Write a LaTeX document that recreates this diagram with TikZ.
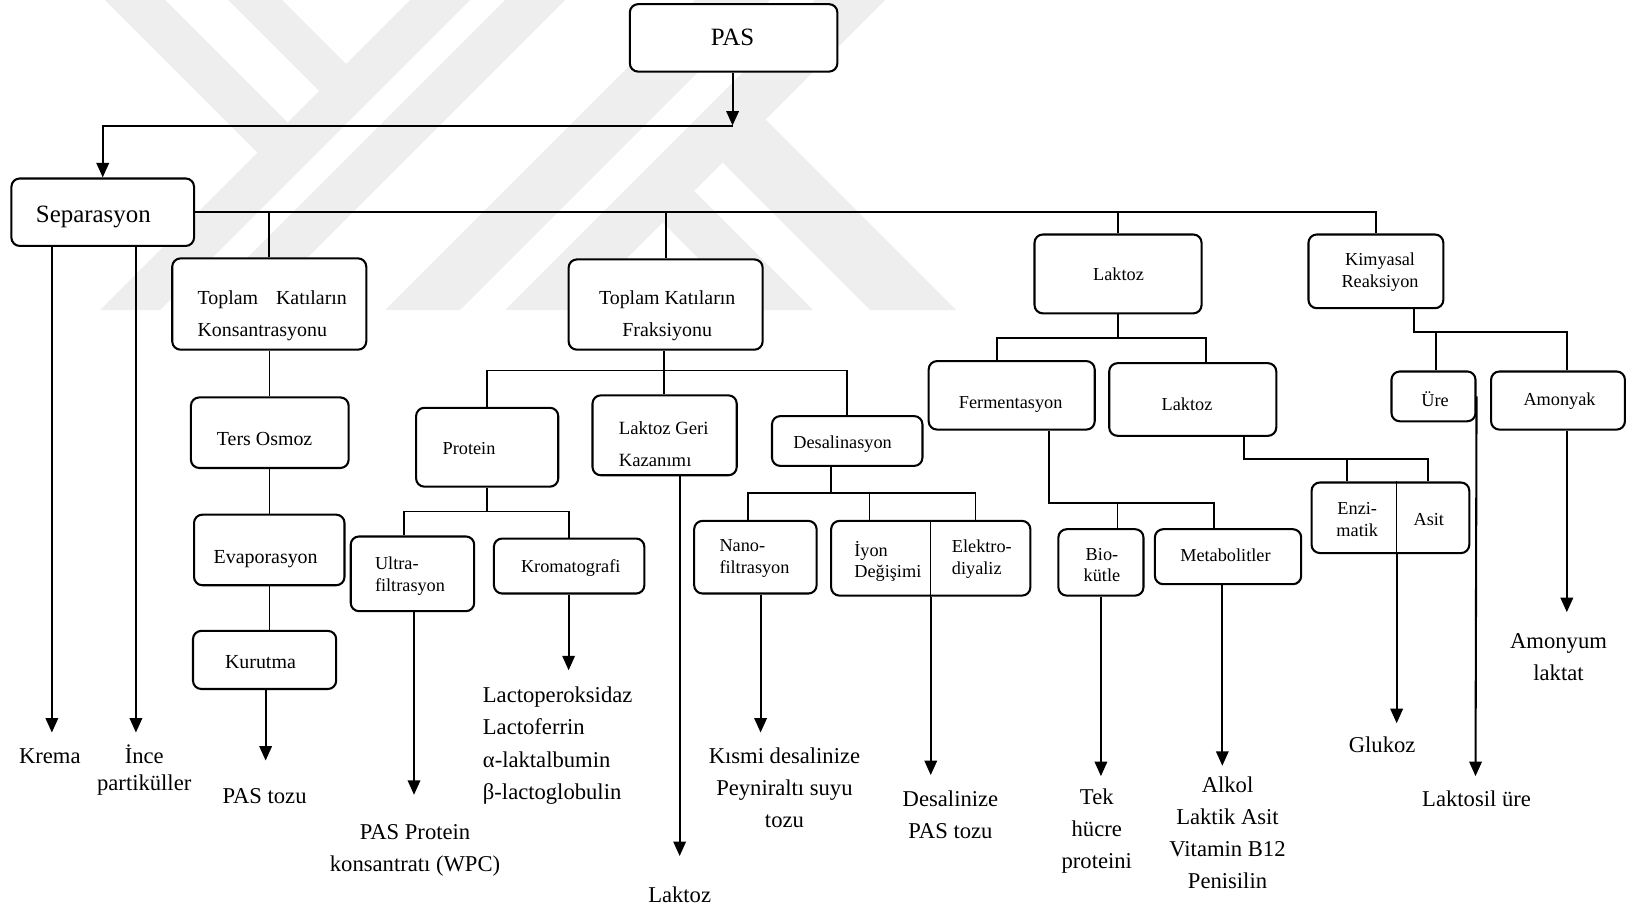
\documentclass[tikz,border=0pt]{standalone}
\usepackage{fontspec}
\setmainfont{Liberation Serif}
\usetikzlibrary{arrows.meta}
\definecolor{wmgray}{RGB}{238,238,238}

% rounded process box given by its left, top, right and bottom edges
\newcommand{\flowbox}[5]{%
  \node[box, minimum width={(#4-(#2))*0.5pt}, minimum height={(#5-(#3))*0.5pt}]
    (#1) at ({(#2+#4)/2},{(#3+#5)/2}) {};}

\begin{document}
\begin{tikzpicture}[x=0.5pt,y=-0.5pt,
  box/.style={draw, rounded corners=4pt, line width=1pt, fill=white, inner sep=0pt},
  ln/.style={line width=0.85pt},
  fine/.style={line width=0.6pt},
  arr/.style={line width=1pt, -{Triangle[length=7pt,width=6pt]}},
  lbl/.style={inner sep=0pt, align=center, yshift=-1pt},
  big/.style={lbl, font=\fontsize{12}{14}\selectfont},
  bs/.style={lbl, font=\fontsize{8.8}{10.5}\selectfont},
  bm/.style={lbl, font=\fontsize{9.6}{15.5}\selectfont},
  res/.style={lbl, font=\fontsize{10.9}{15.5}\selectfont},
  wm/.style={fill=wmgray}]

\useasboundingbox (0,0) rectangle (1568,874);

% faint background emblem
\begin{scope}[scale=0.96376]
  \fill[wm] (410,0) -- (470,0) -- (160,310) -- (100,310) -- cycle;
  \fill[wm] (505,0) -- (565,0) -- (255,310) -- (195,310) -- cycle;
  \fill[wm] (695,0) -- (770,0) -- (460,310) -- (385,310) -- cycle;
  \fill[wm] (815,0) -- (885,0) -- (575,310) -- (505,310) -- cycle;
  \fill[wm] (228,0) -- (282,0) -- (346,64) -- (319,91) -- cycle;
  \fill[wm] (105,0) -- (165,0) -- (287.5,122.5) -- (257.5,152.5) -- cycle;
  \fill[wm] (765.5,119.5) -- (956,310) -- (870,310) -- (722.5,162.5) -- cycle;
  \fill[wm] (694,191) -- (813,310) -- (750,310) -- (662.5,222.5) -- cycle;
\end{scope}

% boxes
\flowbox{pas}{607}{4}{807}{69}
\flowbox{sep}{11}{172}{187}{237}
\flowbox{kons}{166}{249}{353}{337}
\flowbox{frak}{548}{250}{735}{337}
\flowbox{ters}{184}{383}{336}{451}
\flowbox{evap}{187}{496}{332}{564}
\flowbox{kur}{186}{608}{324}{664}
\flowbox{prot}{401}{393}{538}{469}
\flowbox{lgk}{571}{381}{710}{458}
\flowbox{desal}{744}{401}{889}{449}
\flowbox{ultra}{338}{517}{457}{589}
\flowbox{krom}{476}{519}{621}{572}
\flowbox{nano}{669}{502}{787}{572}
\flowbox{iyon}{801}{502}{993}{574}
\flowbox{lak}{997}{226}{1158}{302}
\flowbox{ferm}{895}{348}{1055}{414}
\flowbox{lakb}{1069}{350}{1230}{420}
\flowbox{bio}{1020}{510}{1102}{574}
\flowbox{metab}{1113}{510}{1254}{563}
\flowbox{enz}{1264}{465}{1416}{533}
\flowbox{kim}{1261}{226}{1391}{297}
\flowbox{ure}{1341}{358}{1422}{406}
\flowbox{amon}{1437}{358}{1566}{414}

% junctions and arrow ends
\coordinate (j0) at (706,121);
\coordinate (kremaTip) at (50,706);
\coordinate (inceTip) at (131,706);
\coordinate (ptTip) at (256,733);
\coordinate (fb) at (640,357);
\coordinate (pb) at (470,493);
\coordinate (ppcTip) at (399,766);
\coordinate (lacTip) at (548,646);
\coordinate (lakTip) at (655,825);
\coordinate (db) at (801,475);
\coordinate (dbL) at (721,475);
\coordinate (dbM) at (838,475);
\coordinate (dbR) at (940,475);
\coordinate (ksTip) at (733,706);
\coordinate (dsTip) at (897,747);
\coordinate (lb) at (1077,326);
\coordinate (lbL) at (961,326);
\coordinate (lbR) at (1162,326);
\coordinate (fmb) at (1011,485);
\coordinate (fmM) at (1077,485);
\coordinate (fmR) at (1170,485);
\coordinate (tekTip) at (1061,748);
\coordinate (alkTip) at (1178,738);
\coordinate (l2b) at (1199,442);
\coordinate (l2M) at (1298,442);
\coordinate (l2R) at (1376,442);
\coordinate (gluTip) at (1346,697);
\coordinate (kb) at (1363,320);
\coordinate (kbM) at (1384,320);
\coordinate (kbR) at (1510,320);
\coordinate (luTip) at (1422,748);
\coordinate (amTip) at (1510,590);

% PAS -> Separasyon
\draw[arr] (pas.south -| j0) -- (j0);
\draw[arr] (j0) -| (sep.north);

% main bus
\draw[ln] (sep.east) -| (kim.north);
\draw[ln] (kons.north |- sep.east) -- (kons.north);
\draw[ln] (frak.north |- sep.east) -- (frak.north);
\draw[ln] (lak.north |- sep.east) -- (lak.north);

% Separasyon products
\draw[arr] (sep.south -| kremaTip) -- (kremaTip);
\draw[arr] (sep.south -| inceTip) -- (inceTip);

% concentration chain
\draw[fine] (kons.south) -- (kons.south |- ters.north);
\draw[fine] (ters.south) -- (ters.south |- evap.north);
\draw[fine] (evap.south) -- (evap.south |- kur.north);
\draw[arr] (kur.south -| ptTip) -- (ptTip);

% fractionation
\draw[ln] (frak.south -| fb) -- (lgk.north -| fb);
\draw[ln] (prot.north) |- (fb) -| (desal.north);
\draw[ln] (prot.south) -- (prot.south |- pb);
\draw[ln] ([xshift=-4.25pt]ultra.north) |- (pb) -| (krom.north);
\draw[arr] (ultra.south -| ppcTip) -- (ppcTip);
\draw[arr] (krom.south -| lacTip) -- (lacTip);
\draw[arr] (lgk.south -| lakTip) -- (lakTip);

% desalination
\draw[ln] (desal.south -| db) -- (db);
\draw[ln] (nano.north -| dbL) |- (dbR) -- (iyon.north -| dbR);
\draw[ln] (dbM) -- (iyon.north -| dbM);
\draw[arr] (nano.south -| ksTip) -- (ksTip);
\draw[fine] (iyon.north) -- (iyon.south);
\draw[arr] (iyon.south) -- (dsTip);

% lactose
\draw[ln] (lak.south) -- (lak.south |- lb);
\draw[ln] (ferm.north -| lbL) |- (lbR) -- (lakb.north -| lbR);
\draw[ln] (ferm.south -| fmb) -- (fmb) -- (fmR) -- (metab.north -| fmR);
\draw[ln] (fmM) -- (bio.north -| fmM);
\draw[arr] (bio.south -| tekTip) -- (tekTip);
\draw[arr] (metab.south -| alkTip) -- (alkTip);
\draw[ln] (lakb.south -| l2b) -- (l2b) -- (l2R) -- (enz.north -| l2R);
\draw[ln] (l2M) -- (enz.north -| l2M);
\draw[fine] (enz.north -| gluTip) -- (enz.south -| gluTip);
\draw[arr] (enz.south -| gluTip) -- (gluTip);

% chemical reaction
\draw[ln] (kim.south -| kb) -- (kb) -- (kbR) -- (amon.north -| kbR);
\draw[ln] (kbM) -- (ure.north -| kbM);
\draw[arr] (ure.east) -- (luTip);
\draw[arr] (amon.south -| amTip) -- (amTip);

% box labels
\node[big] (tPAS) at (706,34) {PAS};
\node[big] (tSep) at (90,207) {Separasyon};
\node[bm, anchor=west, align=left] (tKons) at (190,302.5) {Toplam\hspace{0.9em}Katıların\\Konsantrasyonu};
\node[bm] (tFrak) at (643,302.5) {Toplam Katıların\\Fraksiyonu};
\node[bm] (tTers) at (255,421) {Ters Osmoz};
\node[bm] (tEvap) at (256,537) {Evaporasyon};
\node[bm] (tKur) at (251,636) {Kurutma};
\node[bs] (tProt) at (452,430) {Protein};
\node[bs, anchor=west, align=left, font=\fontsize{9}{15}\selectfont] (tLgk) at (596,426) {Laktoz Geri\\Kazanımı};
\node[bs] (tDesal) at (812,426) {Desalinasyon};
\node[bs, anchor=west, align=left] (tUltra) at (361,553.5) {Ultra-\\filtrasyon};
\node[bs] (tKrom) at (550,545) {Kromatografi};
\node[bs, anchor=west, align=left] (tNano) at (693,536) {Nano-\\filtrasyon};
\node[bs, anchor=west, align=left] (tIyon) at (823,539) {İyon\\Değişimi};
\node[bs, anchor=west, align=left] (tElek) at (917,536.5) {Elektro-\\diyaliz};
\node[bs] (tLak) at (1078,262) {Laktoz};
\node[bs] (tFerm) at (974,388) {Fermentasyon};
\node[bs] (tLakb) at (1144,388) {Laktoz};
\node[bs] (tBio) at (1062,542.5) {Bio-\\kütle};
\node[bs] (tMetab) at (1181,533) {Metabolitler};
\node[bs] (tEnz) at (1308,498.5) {Enzi-\\matik};
\node[bs] (tAsit) at (1377,499) {Asit};
\node[bs] (tKim) at (1330,260.5) {Kimyasal\\Reaksiyon};
\node[bs] (tUre) at (1383,383) {Üre};
\node[bs] (tAmon) at (1503,385) {Amonyak};

% products
\node[res] (oKrema) at (48,727) {Krema};
\node[res, font=\fontsize{10.9}{13}\selectfont] (oInce) at (139,740) {İnce\\partiküller};
\node[res] (oPAStozu) at (255,765) {PAS tozu};
\node[res] (oWPC) at (400,817.5) {PAS Protein\\konsantratı (WPC)};
\node[res, anchor=west, align=left] (oLac) at (465,716.5) {Lactoperoksidaz\\Lactoferrin\\α-laktalbumin\\β-lactoglobulin};
\node[res] (oLaktoz) at (655,860) {Laktoz};
\node[res] (oKismi) at (756,757) {Kısmi desalinize\\Peyniraltı suyu\\tozu};
\node[res] (oDes) at (916,783) {Desalinize\\PAS tozu};
\node[res] (oTek) at (1057,799) {Tek\\hücre\\proteini};
\node[res] (oAlk) at (1183,800.5) {Alkol\\Laktik Asit\\Vitamin B12\\Penisilin};
\node[res] (oGlu) at (1332,716) {Glukoz};
\node[res] (oLs) at (1423,768) {Laktosil üre};
\node[res] (oAmy) at (1502,631) {Amonyum\\laktat};
\end{tikzpicture}
\end{document}
